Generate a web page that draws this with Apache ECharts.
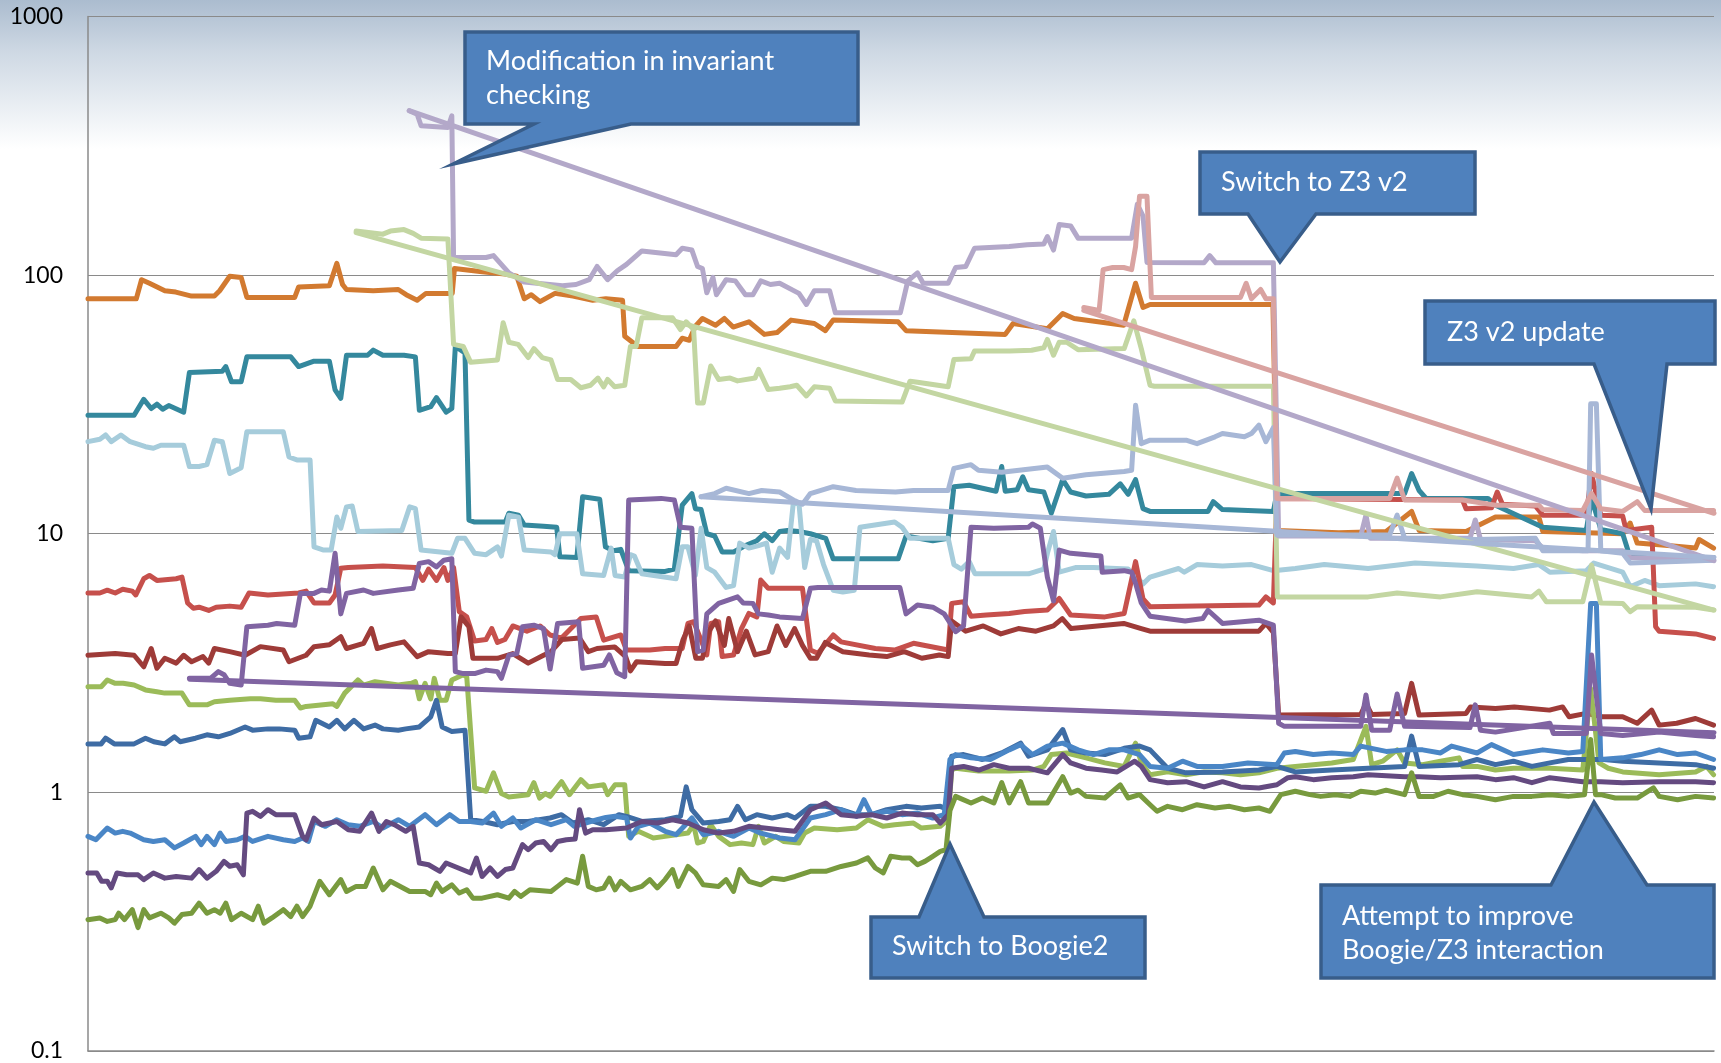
<!DOCTYPE html>
<html>
<head>
<meta charset="utf-8">
<script src="https://cdn.jsdelivr.net/npm/echarts@6/dist/echarts.min.js"></script>
<style>html,body{margin:0;padding:0;background:#fff}#chart{width:1721px;height:1063px}</style>
</head>
<body>
<div id="chart"></div>
<script>
// build index -> run time (log scale)
const yTicks = ['0.1', '1', '10', '100', '1000'];

const sOrange = [[0,81],[11,81],[12.2,96],[14,93],[17.5,87],[20,86],[23.6,83],[28.8,83],[30,87],[32.3,99],[34.9,98],[36.2,82],[47.1,82],[48,90],[55,91],[56.7,111],[58,92],[58.9,88],[65,87],[70.7,88],[72.5,84],[75,80],[77,85],[80,85],[83,85],[83.5,106],[89.8,103],[95,101],[97.7,99],[99.4,81],[101,84],[103,79],[106.4,85],[110.5,83],[115,80],[118,81],[121.8,80],[122.3,58],[125.3,53],[134,53],[135.4,57],[137,56],[138.4,63.5],[140,68],[143,64],[145,68],[147,63],[150.6,66],[154.1,59],[157,60],[160.2,67],[165.5,65],[168,61],[169.8,67],[184.6,66],[186.4,61],[209,59],[210.8,65],[218.6,62],[222.1,71],[224.7,68],[236,64],[238.7,93],[240.4,75],[242,77],[270,77],[271,10.3],[285,10.1],[295.8,10.2],[301.6,12.2],[303.3,10.3],[314,10.2],[320.7,11.6],[330.6,11.6],[331.5,10.2],[349.7,10],[351.4,11],[353,9.2],[360,9.0],[366.3,8.8],[367.1,9.5],[370.4,8.8]];

const sLavender = [[73.2,432],[75,419],[75.9,378],[82,372],[82.9,413],[83.3,117],[90.7,117],[92.4,119],[95.9,102],[99.4,94],[108.1,91],[111.2,92],[114.2,96],[116,108],[118.4,96],[120.6,104],[122.7,110],[126.2,124],[134,120],[135.4,127],[137.6,125],[138.9,108],[140,106],[141,85.5],[142.4,98],[143.2,84],[145.4,96],[147.5,95],[149.8,84],[151.5,84],[153.3,95],[155.5,92],[157.6,93],[162,85],[163.7,77],[165.5,87],[169,87],[170.3,71.5],[185.1,71.5],[186.8,95],[189,102],[190.3,93],[196,93],[197.7,107],[200,108],[202,127],[209.9,129],[214,131],[217.8,132],[218.6,141],[220,125],[221.3,157],[223.9,155],[225.6,139],[237.8,139],[239.1,188],[240.4,169],[241.3,112],[254.3,111.6],[255.6,119],[257,111.6],[270.1,111.6],[271.3,9.8],[290,9.8],[291.2,11.8],[292.2,9.6],[296.6,9.6],[300,9.6],[314.9,9.6],[316.1,11.3],[317.3,9.5],[329.8,9.4],[331.5,8.8],[340.6,8.6],[349.7,8.6],[351.4,8.1],[370.4,7.9]];

const sLightGreen = [[61.1,148],[67.2,144],[68.9,148],[72,150],[74.1,145],[75.9,139],[82,138],[83.3,54],[85.5,53],[87.2,46],[93.3,47],[94.6,65.5],[95.9,55],[98,54],[100.3,48],[101.6,52],[103.5,48],[105.5,47],[107,39.5],[110,39.5],[112.3,36.7],[114.5,37.5],[116.2,40],[117.5,37],[118.4,39.5],[120,37],[122.3,37.5],[123.6,53],[124.9,53],[126.2,68.4],[133.2,68.4],[135,61.6],[136.3,66],[138,61.6],[138.9,32],[140.2,32],[141.9,44.5],[143.7,39.5],[146.3,40],[148,39],[152,40],[152.8,43.2],[155,36.1],[157.6,36.5],[160,37],[161.5,37.5],[163.7,34.1],[165.5,37],[169,36.5],[170.3,32.6],[185.5,32.3],[187.3,38.9],[189,38.5],[196,37],[197.3,47.2],[201.2,47.5],[202,50.9],[210,50.9],[215,51.2],[217.8,52.4],[218.6,56.4],[220,49],[221.3,55],[223,55],[225.6,51.5],[236.1,52],[238.3,66.5],[240,52],[242,37.5],[243,37.2],[270.1,37.2],[271,5.7],[291.7,5.7],[298.3,5.9],[308.2,5.7],[316.5,5.97],[329,5.7],[330.6,6.0],[332.3,5.46],[340.6,5.46],[342.6,7.56],[344.7,5.4],[349.7,5.38],[351.4,5.0],[353,5.22],[366.3,5.2],[370.4,5.07]];

const sPink = [[226.9,75],[230.4,73],[231.3,105],[233.5,107],[236,107],[237.8,105],[238.7,129],[239.6,202],[241.3,202],[242.3,82],[250,82],[262.6,82],[263.9,93],[265.1,81],[267.2,88],[268.4,81],[270.1,81],[270.9,13.7],[285,13.7],[296.6,13.7],[298.3,16.4],[300,13.5],[313.2,13.5],[320.7,12.9],[330.6,12.9],[331.5,12.4],[340.6,12.3],[342.6,14.3],[344.7,12.5],[349.7,12.2],[353,13.3],[354.7,12.3],[370.4,12.3]];

const sTeal = [[0,28.7],[10.5,28.7],[12.7,33.1],[14.4,30.5],[15.7,31.7],[17,30.3],[18.4,31.3],[21.8,29.5],[23.1,42],[30.6,42.5],[31.4,44.3],[32.7,38.7],[34.9,38.7],[36.2,48.3],[46.2,48.3],[48,44.3],[51.5,46.5],[55,46.5],[56.3,36],[57.6,33.4],[58.9,49],[63.7,49],[65,51.3],[67.2,49],[72,49],[74.6,48.3],[75.5,30],[78.1,31],[79.4,33.6],[81.6,29.5],[82.9,30.5],[83.7,53],[85.9,50],[86.8,11.3],[88.1,11.1],[95.1,11.1],[95.9,12],[98.1,11.8],[99.4,10.8],[103.8,10.7],[106.8,10.6],[107.5,8.15],[111.4,8.1],[112.7,13.9],[116.6,13.6],[117.9,8.9],[119.7,8.6],[121.4,8.7],[123.2,7.2],[131.5,7.15],[133.6,7.3],[135.4,12.9],[137.6,14.3],[138.4,12.5],[139.7,12.4],[141,10],[142.8,9.8],[144.5,8.5],[147.1,8.5],[149.8,9.0],[152.4,9.4],[154.1,10],[155.9,9.4],[157.6,10.2],[159.4,10.3],[162,10.2],[164.6,10],[168.1,9.6],[169.8,8.0],[184.6,8.0],[186.4,9.8],[192.5,9.4],[196,9.6],[197.3,15.2],[200.8,15.4],[203.8,15],[206.9,14.6],[208.2,18.2],[209,14.6],[211.7,14.8],[213,16.6],[214.3,14.8],[217.8,14.5],[219.5,12],[222.1,16.2],[223.9,14.5],[227.4,14],[232.6,14.2],[235.2,15.6],[237,14.2],[238.7,16.2],[240.4,12.5],[242,12.2],[255.2,12.2],[256.4,13.3],[258.5,12.4],[270.1,12.2],[270.9,14.3],[300,14.3],[301.6,17.1],[303.3,14.7],[304.9,13.7],[319,13.7],[320.7,12.9],[331.5,10.6],[341.4,10.3],[342.6,13.7],[344.7,10.4],[349.7,10],[351.4,8.1],[370.4,8.1]];

const sLightBlue = [[0,22.7],[2.7,23.2],[4,24.1],[5.3,22.7],[7.5,24.1],[9.6,22.7],[13.1,21.7],[14.9,21.4],[16.6,22],[21.8,22],[23.1,18.2],[25.3,18.2],[27.1,18.5],[28.8,23],[30.6,22.7],[32.3,17.1],[34.9,18],[36.2,24.8],[44.5,24.8],[45.8,19.8],[47.6,19.3],[50.6,19.3],[51.5,8.9],[53.7,8.65],[55.4,8.65],[56.7,11.6],[57.6,10.5],[58.9,12.7],[60.2,12.8],[61.5,10.2],[71.5,10.3],[73.3,12.7],[74.6,12.5],[75.9,8.65],[82.9,8.4],[84.2,9.6],[85.9,9.6],[88.1,8.4],[90.7,8.3],[93.3,8.9],[94.2,8.2],[95.9,11.8],[98.1,11.6],[99.4,8.65],[105.5,8.5],[106.4,8.3],[107.5,10],[111.4,10],[112.7,7.0],[117.5,6.9],[119.2,8.8],[120.1,6.9],[122.3,6.8],[123.6,8.3],[124.5,8.2],[126.2,7.0],[134,6.7],[135.4,8.9],[136.7,8.9],[138.4,6.9],[139.7,10.5],[141,7.4],[142.8,7.1],[145.4,6.2],[147.1,6.3],[148.5,9.2],[150.6,8.8],[152.8,9.0],[154.6,9.2],[155.9,7.1],[157.6,8.8],[159.4,8.1],[160.7,13.1],[162,13.1],[163.3,7.4],[164.6,9.5],[166,9.4],[167.6,7.6],[169.8,6.05],[172,5.95],[174.6,6.05],[175.9,10.6],[183.8,11.1],[185.5,10.6],[187.3,9.6],[196,9.6],[197.3,7.6],[199,7.3],[200.8,7.8],[202.1,7.0],[214.3,7.0],[217.8,7.3],[218.6,8.4],[220,10.2],[221.3,7.1],[225,7.4],[229.1,7.4],[237,7.3],[240.4,6.4],[242,6.8],[248.5,7.34],[249.8,7.1],[252.7,7.6],[258.5,7.5],[265.1,7.6],[270.1,7.2],[275.1,7.34],[281.7,7.6],[291.7,7.34],[302.4,7.7],[316.5,7.5],[324.8,7.34],[330.6,7.6],[333.1,7.1],[341.4,7.2],[343.1,7.7],[349.7,7.1],[351.4,6.24],[354.7,6.6],[358,6.3],[366.3,6.4],[370.4,6.24]];

const sPeriwinkle = [[139.7,13.9],[142.8,14.3],[145.4,15],[150.6,14.3],[153.5,14.7],[157.6,14.5],[161.1,13.4],[162.8,13],[164.6,14.3],[169.8,15.2],[175,14.7],[184,14.5],[188.1,14.7],[196,14.7],[197.3,17.9],[201.2,18.5],[202.9,17.6],[208.2,17.3],[218.6,18.1],[222.1,16.4],[227.4,16.9],[236.1,17.4],[237.8,17.6],[238.7,31.4],[240,22.3],[242,23],[250.2,23],[252.7,22.3],[256.8,23.7],[258.5,24.4],[263.5,23.7],[265.1,24.4],[266.8,26.3],[268.4,22.7],[270.1,25.7],[270.9,9.9],[296.6,9.9],[298.3,11.8],[300,9.6],[316.5,9.5],[329.8,9.6],[331.5,8.6],[341.8,8.6],[342.4,31.8],[343.7,31.8],[344.7,8.6],[349.7,8.4],[351.4,7.7],[370.4,7.9]];

const sRed = [[0,5.9],[2.7,5.9],[4.4,6.05],[6.2,5.9],[7.9,6.1],[10.1,6.0],[10.9,5.8],[12.7,6.7],[14,6.9],[15.7,6.6],[20.1,6.7],[21.4,6.8],[22.7,5.4],[24,5.15],[25.3,5.2],[27.5,5.05],[29.2,5.2],[32.3,5.25],[34.9,5.2],[36.7,5.9],[41,5.8],[48,5.9],[49.7,6.0],[51.5,5.4],[55,5.4],[56.3,5.8],[57.6,7.35],[59.3,7.4],[67.2,7.5],[74.6,7.4],[76.3,6.6],[77.6,7.3],[79.4,6.6],[81.1,7.4],[82,6.6],[83.3,7.4],[84.6,5.0],[86.3,4.77],[88.1,3.85],[90.7,3.9],[92,4.3],[93.3,3.8],[95,3.9],[96.8,4.4],[100,4.2],[103,4.4],[105.3,4.06],[107.9,3.95],[112.3,4.7],[115.8,4.77],[117.5,3.88],[120.1,4.0],[121.4,4.06],[122.7,3.55],[128,3.55],[131.5,3.6],[135.4,3.6],[136.7,4.5],[138,4.57],[139.7,3.88],[141,3.4],[141.9,4.5],[143.7,4.57],[144.5,3.35],[147.1,3.4],[148.9,4.3],[150.6,4.92],[152.4,4.77],[153.3,6.62],[155,6.15],[162.8,6.15],[164.6,3.55],[166.3,3.45],[169.8,4.06],[171.6,3.82],[179.4,3.6],[183.8,3.55],[188.1,3.77],[196,3.55],[196.8,5.38],[199.5,5.46],[201.2,4.8],[204.7,4.85],[209.9,4.92],[213.4,5.0],[218.6,5.07],[221.3,5.62],[223.9,4.85],[231.7,4.77],[236.1,4.92],[238.7,7.8],[240.4,5.6],[242,5.22],[266.8,5.3],[268.4,5.7],[270.1,5.4],[270.9,13.7],[313.2,13.5],[314,12.5],[319.8,12.6],[321.1,14.5],[322.3,13],[329.8,12.8],[331.5,11.8],[341.4,11.8],[342.6,17.1],[344.7,11.8],[349.7,11.7],[350.5,10.3],[356.3,10.6],[357.2,4.37],[358,4.2],[366.3,4.1],[370.4,3.94]];

const sDarkRed = [[0,3.39],[6.2,3.44],[10.5,3.39],[12.7,3.06],[14.4,3.6],[15.7,3.02],[17.5,3.3],[20.1,3.16],[21.8,3.39],[23.6,3.2],[26.2,3.35],[27.5,3.16],[28.8,3.6],[32.3,3.5],[35.8,3.39],[39.3,3.66],[44.5,3.55],[45.8,3.2],[49.7,3.39],[51.5,3.66],[55,3.72],[57.6,4.0],[58.9,3.6],[62.8,3.77],[64.6,4.3],[65.9,3.6],[68.9,3.72],[72,3.82],[75,3.35],[77.6,3.5],[82,3.44],[83.7,3.44],[85,4.77],[86.8,4.37],[87.7,3.3],[93.3,3.3],[96.8,3.44],[100.3,3.16],[103.8,3.39],[105.5,3.5],[108,3.9],[112,3.95],[114,3.5],[116,3.6],[120,3.65],[122.5,3.35],[123.6,2.95],[125,3.2],[131.5,3.15],[134,3.15],[135.6,3.9],[137,4.4],[138.5,3.3],[140,3.3],[141.5,4.2],[143,4.6],[145,3.7],[146,4.7],[148,3.5],[150,4.2],[152,3.4],[155,3.5],[157,4.4],[159,3.7],[161,4.3],[162.8,3.7],[164.6,3.3],[166,3.3],[168,3.8],[172,3.5],[178,3.4],[182,3.35],[186,3.5],[190,3.3],[194,3.4],[196,3.35],[196.8,4.6],[200,4.2],[204,4.4],[208,4.1],[212,4.3],[216,4.2],[220,4.4],[222,4.7],[224,4.3],[230,4.4],[236,4.5],[240,4.3],[242,4.2],[255,4.2],[266.8,4.2],[268.4,4.5],[270.1,4.15],[271.3,1.99],[290,2.0],[291.2,2.21],[292.5,2.0],[300,2.02],[301.6,2.64],[303.3,1.99],[314,2.02],[315,2.14],[320.7,2.11],[325,2.14],[333,2.08],[336,2.14],[337.5,1.96],[341.4,2.02],[345,1.96],[349.7,1.96],[353,1.85],[356.3,2.08],[358,1.82],[362,1.85],[366.3,1.93],[370.4,1.82]];

const sPurple = [[23.1,2.76],[27.9,2.76],[29.7,2.93],[31,2.85],[32.3,2.64],[34.9,2.6],[36.2,4.37],[41,4.43],[43,4.5],[47.1,4.43],[48.4,5.88],[51.5,5.88],[53.2,6.06],[55,6.0],[56.3,8.4],[57.6,4.9],[58.9,5.88],[62.8,6.06],[65,5.88],[70.7,6.06],[74.1,6.15],[75.5,7.68],[77.6,7.8],[79.4,7.45],[81.1,7.9],[82.9,8.0],[83.7,2.93],[85.5,2.88],[88.1,2.88],[90.7,2.97],[93.3,2.93],[94.2,2.76],[95.9,3.39],[97.7,3.44],[99,4.37],[101.6,4.43],[103.8,4.3],[105.3,3.0],[107,4.5],[111.8,4.57],[112.7,3.02],[117.5,3.1],[118.8,3.4],[120.5,2.9],[122.3,2.8],[123.2,13.5],[130.6,13.7],[133.6,13.5],[135,10.6],[137.6,10.5],[138.9,3.5],[140.2,3.55],[141,4.9],[143.7,5.38],[148,5.7],[149.3,5.4],[151.5,5.38],[152.8,4.9],[155,4.85],[157.6,4.77],[162.8,4.7],[164.6,6.15],[166.3,6.2],[185,6.2],[186.4,4.9],[189,5.3],[192.5,5.2],[195.1,4.9],[197.7,4.18],[199.5,4.4],[201.2,10.6],[206.4,10.5],[214.3,10.6],[215.2,10.9],[217,10.5],[218.6,6.8],[220,5.5],[221.3,8.65],[223.9,8.4],[230.8,8.2],[231.1,7.1],[236.1,7.2],[237.8,7.1],[238.7,6.43],[240,5.4],[241.3,5.0],[242,4.8],[250,4.6],[254,4.7],[255.2,5.06],[258.5,4.5],[266.8,4.63],[270.1,4.43],[271.3,1.85],[272.6,1.8],[290,1.8],[291.2,2.38],[292.5,1.74],[296.6,1.74],[298.3,2.4],[300,1.8],[314.9,1.78],[316.1,2.18],[317.3,1.74],[320.7,1.71],[333.1,1.85],[333.9,1.69],[341.4,1.69],[342.6,3.4],[344.7,1.69],[349.7,1.66],[358,1.71],[366.3,1.66],[370.4,1.64]];

const sGreen = [[0,2.56],[3,2.56],[4.4,2.72],[6.2,2.64],[8,2.64],[10.5,2.6],[13.1,2.49],[15.7,2.45],[17.5,2.42],[21.4,2.42],[23.1,2.18],[27.1,2.18],[28.8,2.24],[32.3,2.27],[37,2.3],[39.3,2.3],[42.8,2.27],[47.1,2.27],[48.4,2.12],[49.7,2.15],[55.8,2.2],[56.7,2.15],[58.5,2.42],[61.5,2.72],[62.8,2.6],[65.4,2.68],[70.7,2.6],[73.7,2.64],[74.6,2.68],[75.5,2.3],[76.8,2.64],[78.1,2.3],[78.9,2.76],[80.2,2.27],[81.6,2.27],[82.9,2.72],[85.5,2.85],[86.3,2.8],[88.1,1.04],[90.7,1.01],[92.4,1.19],[94.2,0.99],[95.9,0.96],[100.3,0.98],[101.6,1.09],[102.9,0.95],[104.2,0.99],[105.3,0.965],[107.9,1.1],[109.7,0.98],[112.3,1.12],[114,1.05],[117.5,1.07],[118.4,0.98],[120.1,1.07],[122.3,1.07],[123.2,0.676],[125.4,0.707],[128.8,0.666],[131.5,0.676],[134,0.686],[136.7,0.696],[138,0.75],[138.9,0.637],[140.2,0.646],[141.9,0.75],[143.7,0.676],[146.3,0.628],[148.9,0.637],[151.5,0.628],[152.8,0.739],[154.1,0.637],[156.7,0.676],[158.5,0.646],[162,0.637],[163.3,0.696],[165.5,0.728],[170.7,0.717],[175.1,0.728],[177.7,0.784],[181.2,0.739],[183.8,0.75],[188.1,0.761],[189.9,0.728],[194.2,0.739],[196,0.784],[196.8,1.22],[197.7,1.24],[202.9,1.21],[209.9,1.21],[215.2,1.22],[217.8,1.26],[219.5,1.4],[223,1.42],[227.4,1.36],[231.7,1.3],[236.1,1.26],[238.7,1.55],[240,1.3],[242,1.17],[246,1.2],[250.2,1.17],[254.3,1.2],[258.5,1.19],[262.6,1.17],[266.8,1.19],[270.9,1.24],[275.1,1.26],[279.2,1.28],[283.4,1.3],[288.3,1.34],[291.2,1.8],[292.5,1.28],[295,1.32],[298.3,1.46],[300,1.3],[304.1,1.28],[308.2,1.32],[312.4,1.36],[313.2,1.26],[316.5,1.26],[320.7,1.22],[324.8,1.24],[333.1,1.24],[340.6,1.22],[342.4,2.52],[344.3,1.3],[346.4,1.24],[349.7,1.2],[358,1.17],[366.3,1.2],[368.8,1.26],[370.4,1.17]];

const sDarkBlue = [[0,1.54],[3,1.54],[4,1.62],[6,1.54],[10.5,1.54],[13.1,1.62],[15,1.57],[17.5,1.54],[19.7,1.64],[21,1.57],[24.5,1.62],[27.1,1.67],[29.7,1.64],[32.3,1.69],[35.8,1.79],[37.5,1.74],[41,1.76],[43.6,1.76],[47.1,1.74],[48,1.62],[50.6,1.64],[51.9,1.9],[55,1.79],[56.7,1.9],[58.5,1.76],[60.6,1.9],[62.8,1.76],[65.4,1.82],[67.2,1.76],[70.7,1.74],[72.4,1.76],[75.5,1.79],[78.1,1.96],[79.4,2.27],[80.7,1.79],[82.9,1.72],[85.9,1.74],[87.2,0.784],[90,0.772],[93.3,0.75],[96.8,0.772],[100.3,0.772],[105.3,0.796],[107.9,0.82],[110.5,0.761],[114,0.784],[117.5,0.75],[121,0.82],[122.7,0.808],[126.2,0.772],[131.5,0.784],[135,0.808],[136.3,1.05],[137.6,0.857],[140.2,0.761],[143.7,0.772],[146.3,0.784],[148,0.883],[149.8,0.784],[152.4,0.82],[155.9,0.796],[159.4,0.82],[161.1,0.796],[164.6,0.883],[168.1,0.883],[171.6,0.857],[175.1,0.82],[178.5,0.82],[182,0.857],[186.4,0.883],[189.9,0.87],[194.2,0.883],[196,0.857],[196.8,1.38],[199.5,1.4],[203.8,1.34],[208.2,1.42],[212.5,1.55],[214.3,1.38],[218.6,1.46],[222.1,1.75],[223.9,1.46],[227.4,1.42],[231.7,1.4],[236.1,1.48],[239.6,1.51],[242,1.46],[246,1.24],[250.2,1.19],[258.5,1.2],[266.8,1.22],[270.9,1.26],[275.1,1.2],[283.4,1.22],[291.7,1.24],[300,1.26],[301.6,1.65],[303.3,1.26],[312.4,1.28],[316.5,1.34],[320.7,1.28],[324.8,1.32],[329,1.26],[333.1,1.3],[337.3,1.34],[345.4,1.34],[349.7,1.32],[358,1.3],[366.3,1.28],[370.4,1.24]];

const sBlue = [[0,0.676],[1.8,0.656],[4.4,0.728],[6.2,0.696],[7.9,0.707],[9.6,0.696],[12.7,0.656],[14.9,0.646],[17.5,0.656],[19.7,0.61],[21.8,0.637],[24.5,0.676],[25.8,0.628],[27.1,0.676],[28.8,0.628],[30.1,0.696],[31.4,0.646],[34,0.656],[35.8,0.676],[37.5,0.646],[41,0.676],[44.5,0.656],[47.1,0.646],[48.9,0.666],[50.2,0.646],[51.5,0.772],[54.1,0.739],[56.7,0.784],[59.3,0.75],[61.9,0.739],[65,0.772],[67.2,0.728],[70.7,0.784],[73.3,0.739],[76.8,0.82],[79.4,0.75],[82.4,0.82],[84.6,0.772],[87.2,0.772],[89.8,0.761],[92.4,0.832],[94.2,0.739],[96.8,0.796],[98.6,0.728],[102,0.784],[105.5,0.75],[109,0.784],[110.8,0.739],[113.4,0.761],[116,0.784],[118,0.8],[120.1,0.808],[122.7,0.796],[123.6,0.666],[125.4,0.739],[128,0.761],[131.5,0.707],[134,0.686],[137.6,0.796],[140.2,0.686],[143.7,0.707],[147.1,0.676],[150.6,0.728],[153.3,0.696],[157.6,0.666],[161.1,0.656],[164.6,0.796],[168.1,0.82],[171.6,0.857],[175.1,0.808],[176.8,0.937],[178.5,0.82],[182,0.845],[185.5,0.82],[189,0.832],[192.5,0.796],[195.1,0.82],[196.4,1.34],[197.7,1.4],[201.2,1.36],[205.6,1.34],[209.9,1.46],[212.5,1.53],[215.2,1.4],[218.6,1.51],[222.1,1.55],[225.6,1.46],[229.1,1.4],[232.6,1.46],[236.1,1.46],[239.6,1.4],[242,1.26],[246,1.24],[249.4,1.32],[252.7,1.26],[258.5,1.26],[264.3,1.3],[270.9,1.28],[272.6,1.42],[275.1,1.44],[279.2,1.4],[283.4,1.42],[288.3,1.4],[290,1.51],[295.8,1.44],[300,1.46],[304.1,1.46],[308.2,1.42],[310.7,1.51],[316.5,1.42],[319.8,1.53],[324.8,1.4],[331.5,1.46],[337.3,1.42],[340.6,1.44],[342.4,5.38],[343.7,5.38],[344.7,1.34],[349.7,1.36],[353.8,1.4],[358,1.46],[362.2,1.4],[366.3,1.42],[370.4,1.34]];

const sDarkPurple = [[0,0.488],[2,0.488],[3.1,0.453],[4.4,0.453],[5.3,0.427],[6.6,0.488],[8.8,0.48],[11.4,0.48],[12.7,0.46],[14.9,0.488],[17.5,0.466],[20.1,0.473],[23.6,0.466],[25.3,0.503],[27.1,0.466],[29.2,0.495],[31,0.541],[32.3,0.518],[34,0.525],[35.4,0.48],[36.2,0.832],[37.5,0.845],[39.3,0.808],[41,0.857],[42.8,0.82],[47.1,0.82],[48.9,0.676],[49.7,0.656],[51.5,0.796],[53.2,0.75],[56.7,0.772],[59.3,0.717],[61.9,0.707],[64.6,0.832],[66.3,0.707],[68,0.772],[69.8,0.75],[72.4,0.707],[74.1,0.739],[75.5,0.533],[77.6,0.525],[80.2,0.495],[81.6,0.533],[87.2,0.488],[88.5,0.557],[89.8,0.473],[91.6,0.51],[93.3,0.473],[95.1,0.503],[96.8,0.51],[99,0.628],[100.3,0.6],[102,0.637],[103.8,0.646],[105.5,0.6],[107,0.646],[109,0.656],[111,0.66],[112,0.857],[113.4,0.696],[115,0.717],[118,0.717],[122.7,0.728],[126.2,0.772],[129.7,0.761],[133.2,0.784],[136.7,0.761],[140.2,0.717],[143.7,0.696],[147.1,0.707],[150.6,0.739],[154.1,0.728],[157.6,0.717],[161.1,0.707],[164.6,0.857],[168.1,0.91],[171.6,0.82],[175.1,0.808],[178.5,0.82],[182,0.796],[185.5,0.832],[189,0.82],[192.5,0.82],[194.2,0.761],[196,0.82],[196.8,1.24],[199.5,1.26],[203,1.22],[206.4,1.28],[209.9,1.24],[214.3,1.24],[218.6,1.19],[222.1,1.4],[223.9,1.3],[227.4,1.24],[231,1.22],[234.5,1.2],[238.5,1.32],[240,1.26],[242,1.12],[246,1.09],[250.2,1.1],[254.3,1.05],[258.5,1.1],[262.6,1.05],[266.8,1.04],[270.9,1.07],[273.4,1.14],[275.1,1.15],[279.2,1.12],[283.4,1.14],[288.3,1.15],[291.7,1.17],[300,1.15],[303.3,1.15],[308.2,1.14],[316.5,1.15],[320.7,1.12],[324.8,1.14],[329,1.09],[333.1,1.14],[340.6,1.1],[344.7,1.1],[349.7,1.09],[358,1.1],[366.3,1.1],[370.4,1.09]];

const sOlive = [[0,0.322],[2.7,0.327],[4.4,0.317],[6.2,0.322],[7,0.341],[8.3,0.322],[10.1,0.352],[11.4,0.3],[12.7,0.352],[14,0.327],[16.6,0.341],[18.4,0.327],[19.7,0.312],[21.4,0.337],[23.6,0.341],[25.3,0.373],[27.1,0.341],[28.8,0.352],[30.1,0.341],[31.4,0.373],[32.7,0.322],[34.9,0.341],[37.5,0.322],[38.8,0.363],[40.1,0.312],[41.9,0.327],[44.5,0.352],[46.2,0.331],[47.6,0.363],[48.9,0.331],[50.6,0.363],[52.8,0.453],[55,0.402],[57.6,0.46],[58.9,0.414],[61.1,0.433],[63.2,0.433],[65,0.51],[67.2,0.42],[68.9,0.453],[73.3,0.414],[76.8,0.414],[78.1,0.402],[79.4,0.446],[80.7,0.414],[82.9,0.439],[84.6,0.408],[86.3,0.42],[87.7,0.39],[89.8,0.39],[93.3,0.402],[95.9,0.39],[97.2,0.414],[98.6,0.396],[100.7,0.42],[105.5,0.414],[107,0.433],[109,0.46],[111.5,0.446],[112.7,0.566],[114,0.433],[115.8,0.42],[117.5,0.427],[118.8,0.466],[120.1,0.42],[121.4,0.453],[123.6,0.42],[126.2,0.433],[128,0.46],[129.7,0.427],[131.5,0.46],[133.2,0.503],[134.5,0.433],[136.7,0.517],[138.4,0.488],[140.2,0.439],[143.7,0.433],[145.4,0.46],[147.1,0.414],[148.5,0.503],[150.6,0.453],[153.3,0.439],[155.9,0.466],[158.5,0.46],[161.1,0.473],[164.6,0.495],[168.1,0.495],[171.6,0.517],[175.1,0.533],[177.7,0.558],[179.4,0.51],[181.2,0.488],[182.9,0.566],[185.5,0.558],[187.3,0.558],[189,0.525],[190.7,0.541],[192.5,0.566],[194.2,0.591],[195.5,0.6],[196.4,0.85],[197.7,0.965],[201.2,0.91],[203.8,0.951],[206.4,0.91],[208.2,1.09],[209.9,0.91],[212.5,1.1],[214.3,0.91],[218.6,0.91],[222.1,1.15],[223.9,0.994],[225.6,1.02],[227.4,0.965],[231.7,0.951],[235.2,1.07],[237,0.951],[239.6,0.98],[242,0.896],[243.6,0.845],[246,0.883],[249.4,0.857],[252.7,0.896],[256.8,0.87],[260.1,0.883],[263.5,0.857],[266.8,0.87],[269.3,0.845],[271.8,0.98],[275.1,1.01],[278.4,0.98],[280.9,0.965],[284.2,0.98],[287.5,0.965],[290,1.01],[293.3,0.994],[295.8,1.02],[300,0.98],[301.6,1.19],[303.3,0.965],[306.6,0.965],[309.9,1.01],[313.2,0.98],[316.5,0.965],[320.7,0.937],[324.8,0.965],[329,0.965],[333.1,0.98],[337.3,0.965],[341,0.98],[342.4,1.6],[343.5,0.98],[344.7,0.98],[348,0.951],[353,0.951],[356.7,1.04],[358,0.965],[362.2,0.937],[366.3,0.965],[370.4,0.951]];

// trend lines: start / end
const tLavender = [[73.2,433],[370.5,7.87]];
const tLightGreen = [[61.1,146],[370.5,5.07]];
const tPink = [[226.9,73],[370.5,12.0]];
const tPeriwinkle = [[139.7,13.9],[370.5,8.1]];
const tPurple = [[23.2,2.74],[370.5,1.70]];

const lines = [
    { data: sOrange, color: '#d27a30' },
    { data: sTeal, color: '#34889d' },
    { data: sLightBlue, color: '#a6ccdb' },
    { data: sRed, color: '#c6504c' },
    { data: sDarkRed, color: '#9e3b38' },
    { data: sGreen, color: '#9bbb59' },
    { data: sDarkBlue, color: '#3e6ca4' },
    { data: sBlue, color: '#4a86c6' },
    { data: sDarkPurple, color: '#644a80' },
    { data: sOlive, color: '#789a3e' },
    { data: sPurple, color: '#8064a2' },
    { data: sLightGreen, color: '#c3d6a2' },
    { data: sLavender, color: '#b3a8c9' },
    { data: sPeriwinkle, color: '#a7b7d6' },
    { data: sPink, color: '#d9a3a1' },
    { data: tPurple, color: '#8064a2' },
    { data: tLightGreen, color: '#c3d6a2' },
    { data: tLavender, color: '#b3a8c9' },
    { data: tPeriwinkle, color: '#a7b7d6' },
    { data: tPink, color: '#d9a3a1' }
];

// callout shapes (pixel layout, not data)
const calloutFill = '#4f81bd';
const calloutStroke = '#385d8a';
const callouts = [
    { pts: [[465,32],[858,32],[858,124],[631,124],[453,164],[534,124],[465,124]], text: 'Modification in invariant\nchecking', x: 486, y: 78 },
    { pts: [[1200,152],[1475,152],[1475,214],[1316,214],[1280,262],[1248,214],[1200,214]], text: 'Switch to Z3 v2', x: 1221, y: 182 },
    { pts: [[1425,301],[1715,301],[1715,364],[1667,364],[1651,509],[1594,364],[1425,364]], text: 'Z3 v2 update', x: 1447, y: 332 },
    { pts: [[871,917],[919,917],[950,844],[984,917],[1145,917],[1145,978],[871,978]], text: 'Switch to Boogie2', x: 892, y: 946 },
    { pts: [[1321,885],[1551,885],[1594,802],[1647,885],[1714,885],[1714,978],[1321,978]], text: 'Attempt to improve\nBoogie/Z3 interaction', x: 1342, y: 933 }
];

const myChart = echarts.init(document.getElementById('chart'));

const graphics = [];
callouts.forEach(c => {
    graphics.push({
        type: 'polygon', z: 100,
        shape: { points: c.pts },
        style: { fill: calloutFill, stroke: calloutStroke, lineWidth: 3.5, lineJoin: 'miter' }
    });
    graphics.push({
        type: 'text', z: 101, x: c.x, y: c.y,
        style: {
            text: c.text, fill: '#ffffff', font: '27px Lato',
            textVerticalAlign: 'middle', verticalAlign: 'middle', lineHeight: 34
        }
    });
});

myChart.setOption({
    animation: false,
    backgroundColor: {
        type: 'linear', x: 0, y: 0, x2: 0, y2: 1,
        colorStops: [
            { offset: 0, color: '#abbccf' },
            { offset: 0.05, color: '#cfd9e4' },
            { offset: 0.14, color: '#ffffff' },
            { offset: 1, color: '#ffffff' }
        ]
    },
    grid: { left: 88, right: 7, top: 16.5, bottom: 12 },
    xAxis: {
        type: 'value', min: 0, max: 370.5,
        axisLine: { show: true, lineStyle: { color: '#8a8a8a', width: 1.5 } },
        axisTick: { show: false }, axisLabel: { show: false }, splitLine: { show: false }
    },
    yAxis: {
        type: 'log', logBase: 10, min: 0.1, max: 1000,
        axisLine: { show: true, lineStyle: { color: '#8a8a8a', width: 1.5 } },
        axisTick: { show: false },
        axisLabel: {
            color: '#000', fontSize: 23, fontFamily: 'Lato', margin: 25,
            formatter: v => yTicks.find(t => Math.abs(parseFloat(t) - v) < v * 1e-6) || ''
        },
        splitLine: { show: true, lineStyle: { color: '#8a8a8a', width: 1.2 } }
    },
    series: lines.map(l => ({
        type: 'line', data: l.data, showSymbol: false, symbol: 'none', silent: true,
        lineStyle: { width: 5, color: l.color, join: 'round', cap: 'round' },
        itemStyle: { color: l.color }
    })),
    graphic: graphics
});
</script>
</body>
</html>
